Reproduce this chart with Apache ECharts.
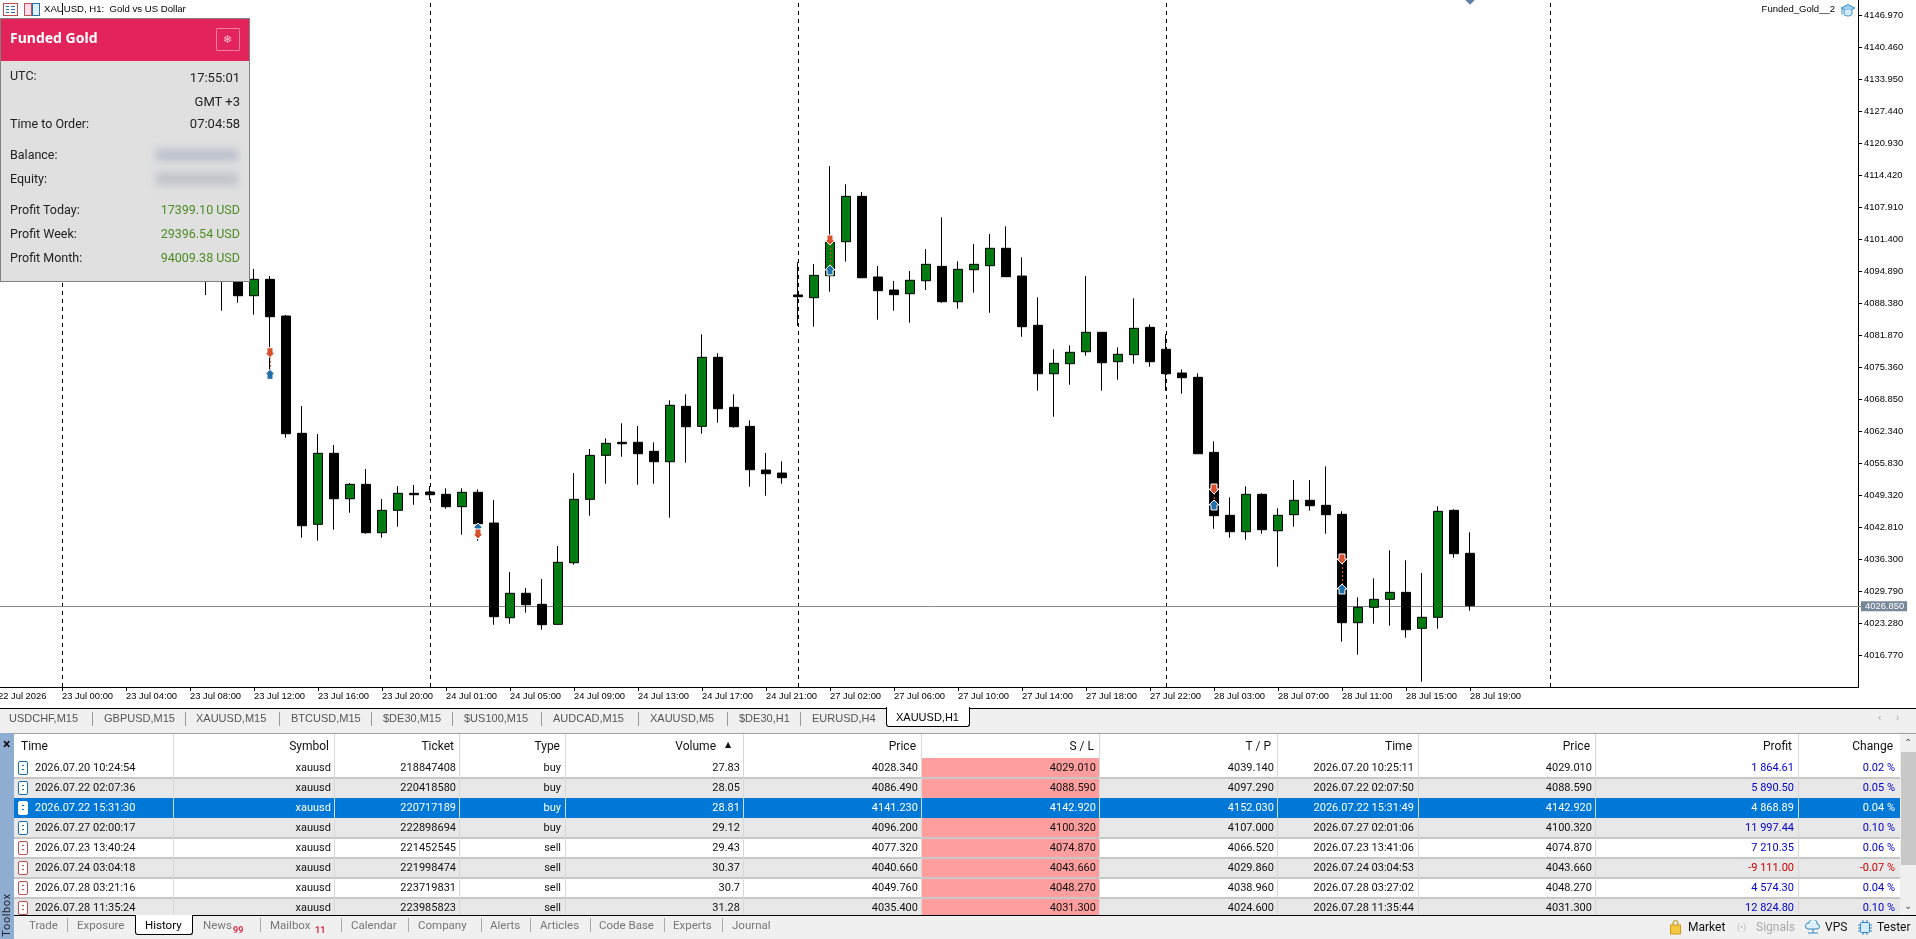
<!DOCTYPE html>
<html><head><meta charset="utf-8"><title>XAUUSD H1</title>
<script src="https://cdn.jsdelivr.net/npm/echarts@6/dist/echarts.min.js"></script>
<style>
html,body{margin:0;padding:0;background:#fff;overflow:hidden}
#chart{position:absolute;left:0;top:0;width:1916px;height:939px}
#ui{position:absolute;left:0;top:0;width:1916px;height:939px;pointer-events:none;font-family:Roboto,"Liberation Sans",sans-serif;font-size:11px;color:#111}
.b{position:absolute;box-sizing:border-box}
.t{position:absolute;white-space:nowrap;line-height:14px;height:14px}
</style></head><body>
<div id="chart"></div><div id="ui"></div>
<script>
// ---------- chart data ----------
const firstBarIndex = 13;
const opens = [4096.86,4096.86,4095.24,4090.00,4093.34,4085.87,4062.01,4043.50,4057.94,4048.70,4051.63,4041.79,4046.34,4049.80,4050.07,4049.60,4047.08,4050.01,4043.76,4024.49,4029.46,4027.22,4023.15,4035.68,4048.58,4057.53,4060.18,4060.18,4058.35,4056.23,4067.50,4063.43,4077.47,4067.30,4063.43,4054.54,4053.93,4090.15,4089.60,4094.07,4100.99,4110.22,4093.81,4091.16,4090.41,4093.05,4095.98,4088.78,4095.29,4096.11,4099.65,4094.01,4083.98,4074.13,4076.17,4078.61,4082.56,4076.58,4078.00,4083.57,4079.10,4074.28,4073.40,4058.14,4045.33,4041.99,4049.60,4042.19,4045.45,4048.38,4047.36,4045.53,4023.48,4026.61,4028.24,4029.66,4022.34,4024.58,4046.34,4037.60];
const closes = [4099.30,4095.24,4090.00,4093.34,4085.73,4061.93,4043.21,4057.94,4048.70,4051.63,4041.79,4046.34,4049.80,4049.52,4049.52,4047.08,4050.01,4043.62,4024.70,4029.46,4027.14,4023.07,4035.76,4048.58,4057.53,4059.97,4059.89,4057.86,4056.23,4067.71,4063.35,4077.47,4067.01,4063.35,4054.60,4053.79,4052.98,4089.80,4094.15,4100.87,4110.22,4093.66,4091.02,4090.21,4093.14,4096.39,4088.78,4095.37,4096.39,4099.65,4093.87,4083.70,4074.13,4076.25,4078.49,4082.56,4076.37,4078.08,4083.37,4076.58,4074.13,4073.32,4057.86,4045.25,4041.99,4049.60,4042.40,4045.33,4048.38,4047.28,4045.45,4023.48,4026.61,4028.24,4029.66,4022.05,4024.58,4046.14,4037.52,4026.94];
const lows = [4090.15,4086.95,4088.58,4086.14,4073.20,4061.11,4040.77,4040.16,4042.40,4045.86,4041.58,4040.77,4043.01,4047.48,4048.44,4046.67,4041.38,4040.16,4023.07,4023.28,4025.51,4022.05,4023.05,4035.28,4045.25,4051.76,4057.25,4051.55,4051.76,4044.84,4056.03,4061.93,4064.17,4063.15,4051.15,4049.31,4051.76,4083.90,4083.70,4090.82,4096.92,4093.62,4085.12,4086.95,4084.51,4091.16,4088.58,4087.36,4090.61,4086.54,4093.81,4081.66,4070.68,4065.39,4071.90,4077.80,4070.68,4072.91,4076.17,4075.56,4070.68,4070.07,4057.82,4042.60,4040.77,4040.36,4041.58,4034.87,4043.01,4046.26,4041.58,4019.61,4016.97,4023.28,4022.87,4020.43,4011.48,4022.26,4036.70,4025.92];
const highs = [4102.36,4099.30,4096.86,4095.44,4094.01,4086.08,4067.56,4061.87,4059.63,4051.90,4054.75,4048.64,4051.29,4051.49,4051.29,4050.82,4050.82,4050.62,4048.44,4033.79,4030.54,4032.37,4039.08,4053.93,4058.82,4060.99,4064.04,4063.49,4060.18,4068.72,4069.94,4082.15,4078.28,4069.94,4064.65,4058.00,4056.31,4096.80,4096.45,4116.39,4112.67,4111.10,4096.04,4093.00,4095.03,4099.50,4105.95,4097.00,4100.52,4102.56,4104.12,4097.81,4089.68,4079.10,4079.91,4094.01,4082.62,4079.50,4089.47,4084.18,4082.15,4075.03,4074.22,4060.38,4048.99,4051.23,4049.80,4046.75,4052.51,4052.51,4055.29,4046.14,4028.65,4032.51,4038.21,4036.17,4033.59,4047.16,4046.55,4041.87];
const priceTicks = [4146.97,4140.46,4133.95,4127.44,4120.93,4114.42,4107.91,4101.40,4094.89,4088.38,4081.87,4075.36,4068.85,4062.34,4055.83,4049.32,4042.81,4036.30,4029.79,4023.28,4016.77];
const timeTicks = ['22 Jul 2026','23 Jul 00:00','23 Jul 04:00','23 Jul 08:00','23 Jul 12:00','23 Jul 16:00','23 Jul 20:00','24 Jul 01:00','24 Jul 05:00','24 Jul 09:00','24 Jul 13:00','24 Jul 17:00','24 Jul 21:00','27 Jul 02:00','27 Jul 06:00','27 Jul 10:00','27 Jul 14:00','27 Jul 18:00','27 Jul 22:00','28 Jul 03:00','28 Jul 07:00','28 Jul 11:00','28 Jul 15:00','28 Jul 19:00'];
const daySeparators = [4,27,50,73,97];
const currentPrice = 4026.85;
const tradeBars = [17,30,52,76,84];
const sellMarks = [4078.41,4041.53,4101.34,4050.68,4036.44];
const buyMarks = [4074.01,4042.75,4095.24,4047.43,4030.34];
const topMark = [92,4150.1];
const barSlots = 117;
const priceMin = 4010.40, priceMax = 4150.164;

// ---------- table data ----------
const colTime = ['2026.07.20 10:24:54','2026.07.22 02:07:36','2026.07.22 15:31:30','2026.07.27 02:00:17','2026.07.23 13:40:24','2026.07.24 03:04:18','2026.07.28 03:21:16','2026.07.28 11:35:24'];
const colSymbol = ['xauusd','xauusd','xauusd','xauusd','xauusd','xauusd','xauusd','xauusd'];
const colTicket = ['218847408','220418580','220717189','222898694','221452545','221998474','223719831','223985823'];
const colType = ['buy','buy','buy','buy','sell','sell','sell','sell'];
const colVolume = ['27.83','28.05','28.81','29.12','29.43','30.37','30.7','31.28'];
const colPrice = ['4028.340','4086.490','4141.230','4096.200','4077.320','4040.660','4049.760','4035.400'];
const colSL = ['4029.010','4088.590','4142.920','4100.320','4074.870','4043.660','4048.270','4031.300'];
const colTP = ['4039.140','4097.290','4152.030','4107.000','4066.520','4029.860','4038.960','4024.600'];
const colTime2 = ['2026.07.20 10:25:11','2026.07.22 02:07:50','2026.07.22 15:31:49','2026.07.27 02:01:06','2026.07.23 13:41:06','2026.07.24 03:04:53','2026.07.28 03:27:02','2026.07.28 11:35:44'];
const colPrice2 = ['4029.010','4088.590','4142.920','4100.320','4074.870','4043.660','4048.270','4031.300'];
const colProfit = ['1 864.61','5 890.50','4 868.89','11 997.44','7 210.35','-9 111.00','4 574.30','12 824.80'];
const colChange = ['0.02 %','0.05 %','0.04 %','0.10 %','0.06 %','-0.07 %','0.04 %','0.10 %'];

// ---------- chart ----------
const axisFont = {fontFamily:'"Liberation Sans",Arial,sans-serif',fontSize:9.4,color:'#000'};
const categories = [];
for (let i=0;i<barSlots;i++) categories.push(i%4===0 && timeTicks[i/4] ? timeTicks[i/4] : 'bar'+i);
const isTick = i => i%4===0 && i/4 < timeTicks.length;
const candles = opens.map((o,n)=>[firstBarIndex+n,o,closes[n],lows[n],highs[n]]);
const arrowUp='path://M5 0L10 5L8 5L8 10L2 10L2 5L0 5Z', arrowDown='path://M2 0L8 0L8 5L10 5L5 10L0 5L2 5Z';
const chart = echarts.init(document.getElementById('chart'),null,{renderer:'canvas'});
chart.setOption({
  animation:false, backgroundColor:'#fff',
  grid:{left:-10,top:0,width:barSlots*16,height:687,containLabel:false,outerBoundsMode:'none'},
  xAxis:{type:'category',data:categories,boundaryGap:true,
    axisLine:{show:false},
    axisTick:{show:true,alignWithLabel:true,length:4,interval:i=>isTick(i),lineStyle:{color:'#000'}},
    axisLabel:Object.assign({show:true,interval:i=>isTick(i),align:'left',margin:5,hideOverlap:false},axisFont),
    splitLine:{show:false}},
  yAxis:{type:'value',position:'right',offset:-4,min:priceMin,max:priceMax,scale:true,
    axisLine:{show:true,onZero:false,lineStyle:{color:'#000',width:1}},
    axisTick:{show:true,length:4,customValues:priceTicks,lineStyle:{color:'#000'}},
    axisLabel:Object.assign({show:true,customValues:priceTicks,margin:6,formatter:v=>v.toFixed(3)},axisFont),
    splitLine:{show:false}},
  series:[
    {type:'candlestick',data:candles,encode:{x:0,y:[1,2,3,4]},barWidth:10,z:3,
      itemStyle:{color:'#067a12',color0:'#000',borderColor:'#000',borderColor0:'#000',borderWidth:1},
      markLine:{silent:true,symbol:'none',z:1,animation:false,
        data:[
          ...daySeparators.map(i=>({xAxis:i,lineStyle:{color:'#000',type:[4,4],width:1},label:{show:false}})),
          {yAxis:currentPrice,lineStyle:{color:'#7f8a8a',type:'solid',width:1},
           label:{show:true,position:'end',distance:-1,formatter:()=>currentPrice.toFixed(3),color:'#fff',backgroundColor:'#778899',
             padding:[1,3,0,4],fontFamily:axisFont.fontFamily,fontSize:9.4}}
        ]}},
    {type:'scatter',name:'close',data:tradeBars.map((b,n)=>[b,buyMarks[n]]),symbol:arrowUp,symbolSize:10,z:6,
      itemStyle:{color:'#1f6fa8',borderColor:'#fff',borderWidth:1,opacity:1},
      markLine:{silent:true,symbol:'none',z:5,animation:false,label:{show:false},
        lineStyle:{color:'#d9502e',type:[2,2],width:1},
        data:tradeBars.map((b,n)=>[{coord:[b,sellMarks[n]]},{coord:[b,buyMarks[n]]}])}},
    {type:'scatter',name:'open',data:tradeBars.map((b,n)=>[b,sellMarks[n]]),symbol:arrowDown,symbolSize:10,z:6,
      itemStyle:{color:'#d9502e',borderColor:'#fff',borderWidth:1,opacity:1}},
    {type:'scatter',name:'top',data:[topMark],symbol:'diamond',symbolSize:9,z:6,itemStyle:{color:'#5f7fa5',opacity:1}}
  ]
});

// ---------- window chrome ----------
const ui = document.getElementById('ui');
function box(x,y,w,h,css){const d=document.createElement('div');d.className='b';d.style.cssText=`left:${x}px;top:${y}px;width:${w}px;height:${h}px;`+(css||'');ui.appendChild(d);return d;}
function txt(x,cy,s,css,right){const d=document.createElement('div');d.className='t';d.textContent=s;
  d.style.cssText=(right?`right:${1916-x}px;`:`left:${x}px;`)+`top:${cy-7}px;`+(css||'');ui.appendChild(d);return d;}
function svg(x,y,w,h,inner){const d=document.createElement('div');d.className='b';d.style.cssText=`left:${x}px;top:${y}px;width:${w}px;height:${h}px;`;
  d.innerHTML=`<svg xmlns="http://www.w3.org/2000/svg" width="${w}" height="${h}" viewBox="0 0 ${w} ${h}">${inner}</svg>`;ui.appendChild(d);}

// axis frame
box(0,687,1859,1,'background:#000');
box(0,708,886,1,'background:#000'); box(969,708,947,1,'background:#000');

// top title
svg(3,3,15,13,'<rect x=".5" y=".5" width="14" height="12" fill="#fff" stroke="#c0504d"/><path d="M3 3.5h3M3 6.5h3M3 9.5h3M8 3.5h4M8 6.5h4M8 9.5h4" stroke="#2b6ea8"/>');
svg(24,3,16,13,'<rect x=".5" y=".5" width="7" height="12" fill="#fde" stroke="#c0504d"/><rect x="8.5" y=".5" width="7" height="12" fill="#def" stroke="#2b6ea8"/>');
txt(44,9,'XAUUSD, H1:  Gold vs US Dollar','font-family:"Liberation Sans";font-size:9.6px;color:#000;white-space:pre');
txt(1835,9,'Funded_Gold__2','font-family:"Liberation Sans";font-size:9.5px;color:#000',true);
svg(1840,3,16,14,'<path d="M1 5L8 1.5L15 5L8 8.5Z" fill="#9ccfee" stroke="#3c8fc4"/><path d="M4 7v4.5c2 2 6 2 8 0V7" fill="#cfe9f8" stroke="#3c8fc4"/><path d="M2 5.5v6" stroke="#3c8fc4"/>');

// Funded Gold panel
box(0,18,250,264,'background:#e0e0e0;border:1px solid #808080');
box(1,19,248,42,'background:#e2245a');
txt(10,38,'Funded Gold','font-family:"Noto Sans";font-weight:700;font-size:14px;color:#fff');
box(216,28,24,23,'border:1px solid #f07f9f;border-radius:1px');
txt(223,40,'❄','font-size:11px;color:#ffc0d0;font-family:"DejaVu Sans"');
const pLabel='font-size:12.5px;color:#222';
const pVal='font-size:13px;color:#222';
txt(10,76,'UTC:',pLabel); txt(240,78,'17:55:01',pVal,true);
txt(240,102,'GMT +3',pVal,true);
txt(10,124,'Time to Order:',pLabel); txt(240,124,'07:04:58',pVal,true);
txt(10,155,'Balance:',pLabel);
box(156,149,82,12,'background:#b9bfcc;filter:blur(4px)');
txt(10,179,'Equity:',pLabel);
box(156,173,82,12,'background:#bfc1c8;filter:blur(4px)');
const pGreen='font-size:12.5px;color:#4d8c24';
txt(10,210,'Profit Today:',pLabel); txt(240,210,'17399.10 USD',pGreen,true);
txt(10,234,'Profit Week:',pLabel); txt(240,234,'29396.54 USD',pGreen,true);
txt(10,258,'Profit Month:',pLabel); txt(240,258,'94009.38 USD',pGreen,true);

// chart tab bar
box(0,709,1916,24,'background:#f0f0f0');
box(0,733,1916,1,'background:#a0a0a0');
const tabNames=['USDCHF,M15','GBPUSD,M15','XAUUSD,M15','BTCUSD,M15','$DE30,M15','$US100,M15','AUDCAD,M15','XAUUSD,M5','$DE30,H1','EURUSD,H4'];
const tabX=[9,104,196,291,383,464,553,650,739,812];
const tabSep=[92,185,279,371,452,541,638,727,800];
const tabCss='font-family:"Liberation Sans";font-size:11px;color:#555';
tabNames.forEach((n,i)=>txt(tabX[i],718,n,tabCss));
tabSep.forEach(x=>box(x,712,1,14,'background:#999'));
box(886,707,84,20,'background:#fff;border:1px solid #000;border-top:0;border-radius:0 0 3px 3px');
txt(896,717,'XAUUSD,H1','font-family:"Liberation Sans";font-size:11px;color:#000');
txt(1878,718,'‹','color:#aaa;font-size:11px'); txt(1896,718,'›','color:#aaa;font-size:11px');

// trade table
const colRights=[173,334,459,565,743,921,1099,1277,1418,1595,1798,1900];
box(14,734,1902,181,'background:#fff');
const hdr='font-size:12px;color:#111';
txt(21,746,'Time',hdr);
[[329,'Symbol'],[454,'Ticket'],[560,'Type'],[716,'Volume'],[916,'Price'],[1094,'S / L'],[1271,'T / P'],[1412,'Time'],[1590,'Price'],[1792,'Profit'],[1893,'Change']].forEach(h=>txt(h[0],746,h[1],hdr,true));
txt(725,745,'▲','font-size:8px;color:#111;font-family:"DejaVu Sans"');
const cols=[colSymbol,colTicket,colType,colVolume,colPrice,colSL,colTP,colTime2,colPrice2,colProfit,colChange];
const colTextR=[331,456,561,740,918,1096,1274,1414,1592,1794,1895];
for(let r=0;r<8;r++){
  const y=758+r*19.95, h=r===7?18:20, sel=r===2;
  const bg=sel?'#0078d7':(r%2?'#e8e8e8':'#fff');
  box(14,y,1886,h,'background:'+bg);
  if(!sel){ box(921,y,178,h,'background:#ff9e9e'); }
  if(r>0) box(14,y-1,1886,2,'background:'+(sel||r===3?'transparent':'#c6c6c6'));
  const cy=y+10, fg=sel?'#fff':'#111';
  const isBuy=colType[r]==='buy', ic=isBuy?'#1a6fb0':'#c04a4a';
  box(18,cy-7,10,14,`background:#fff;border:1px solid ${sel?'#fff':ic};border-radius:2px`);
  box(22,cy-3,2,1,`background:${sel?'#0078d7':ic}`);box(22,cy+1,2,1,`background:${sel?'#0078d7':ic}`);
  txt(35,cy,colTime[r],`color:${fg}`);
  cols.forEach((c,j)=>{
    let col=fg;
    if(j>=9) col=sel?'#fff':(c[r][0]==='-'?'#d00000':'#0000c8');
    txt(colTextR[j],cy,c[r],`color:${col}`,true);
  });
}
colRights.forEach(x=>box(x,734,1,181,'background:#d8d8d8'));
// scrollbar
box(1900,734,16,181,'background:#f0f0f0');
box(1901,752,15,113,'background:#c8c8c8');
txt(1904,743,'⌃','font-size:10px;color:#555;font-family:"DejaVu Sans"');
txt(1904,906,'⌄','font-size:10px;color:#555;font-family:"DejaVu Sans"');

// bottom bar
box(14,915,1902,24,'background:#f0f0f0');
box(14,915,1902,1,'background:#000');
box(135,915,58,20,'background:#fff;border:1px solid #000;border-top:0;border-radius:0 0 3px 3px');
const bCss='font-family:Roboto;font-size:11.5px;color:#777';
[['Trade',29],['Exposure',77],['News',203],['Mailbox',270],['Calendar',351],['Company',418],['Alerts',490],['Articles',540],['Code Base',599],['Experts',673],['Journal',732]].forEach(a=>txt(a[1],925,a[0],bCss));
txt(145,925,'History','font-family:Roboto;font-size:11.5px;color:#000');
txt(233,930,'99','font-size:9px;font-weight:700;color:#d9304f');
txt(315,930,'11','font-size:9px;font-weight:700;color:#d9304f');
[67,260,341,408,481,530,590,664,722].forEach(x=>box(x,918,1,14,'background:#aaa'));
svg(1669,920,13,15,'<path d="M4 5V3a2.5 2.5 0 0 1 5 0v2" fill="none" stroke="#b88a00"/><rect x="1.5" y="5" width="10" height="9" fill="#f5c842" stroke="#d09a10"/>');
txt(1688,927,'Market','font-family:Roboto;font-size:12px;color:#111');
txt(1737,927,'(•)','font-size:9px;color:#bbb');
txt(1756,927,'Signals','font-family:Roboto;font-size:12px;color:#aaa');
svg(1805,920,16,15,'<path d="M3 9a3 3 0 0 1 1-6 4 4 0 0 1 8 1 2.5 2.5 0 0 1 0 5Z" fill="#e0f0fb" stroke="#2f86c0"/><path d="M8 9v4M3 13h10" stroke="#2f86c0"/>');
txt(1825,927,'VPS','font-family:Roboto;font-size:12px;color:#111');
svg(1858,920,14,15,'<rect x="2.5" y="2.5" width="9" height="10" rx="1" fill="#d5ecfa" stroke="#2f86c0"/><path d="M0 5h2M0 8h2M0 11h2M12 5h2M12 8h2M12 11h2M5 0v2M9 0v2M5 13v2M9 13v2" stroke="#2f86c0"/>');
txt(1877,927,'Tester','font-family:Roboto;font-size:12px;color:#111');
// left toolbox strip
box(0,733,14,206,'background:#8fadd0');
txt(3,744,'×','font-size:14px;color:#111;font-weight:700');
const tb=box(-18,908,50,14,'transform:rotate(-90deg);font-family:Roboto;font-size:11px;letter-spacing:.6px;color:#223;line-height:14px;text-align:center');tb.textContent='Toolbox';
</script></body></html>
